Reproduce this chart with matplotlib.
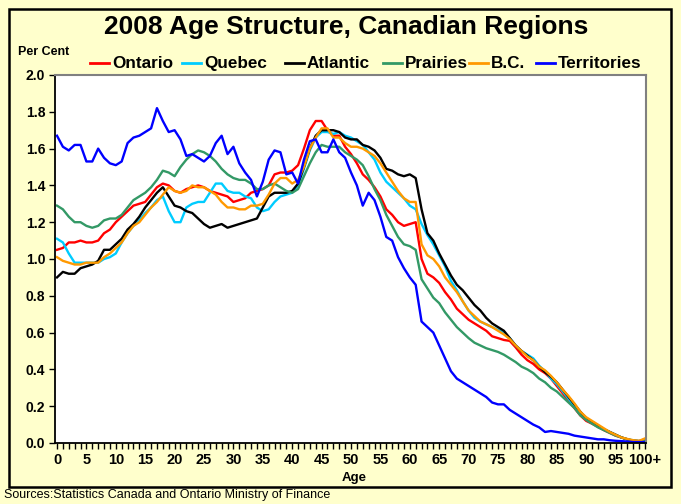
import matplotlib
matplotlib.use('Agg')
import matplotlib.pyplot as plt
from matplotlib.patches import Rectangle
from matplotlib.lines import Line2D
from matplotlib.ticker import FixedLocator, FixedFormatter, MultipleLocator, FormatStrFormatter

ages = list(range(101))

ontario = [1.05, 1.06, 1.09, 1.09, 1.10, 1.09, 1.09, 1.10, 1.14, 1.16,
           1.20, 1.23, 1.26, 1.29, 1.30, 1.31, 1.35, 1.39, 1.41, 1.40,
           1.37, 1.36, 1.38, 1.39, 1.40, 1.39, 1.37, 1.36, 1.35, 1.34,
           1.31, 1.32, 1.33, 1.36, 1.37, 1.38, 1.40, 1.46, 1.47, 1.47,
           1.48, 1.51, 1.60, 1.70, 1.75, 1.75, 1.70, 1.67, 1.67, 1.61,
           1.57, 1.52, 1.46, 1.43, 1.39, 1.34, 1.27, 1.24, 1.20, 1.18,
           1.19, 1.20, 1.00, 0.92, 0.90, 0.87, 0.82, 0.78, 0.73, 0.70,
           0.67, 0.65, 0.63, 0.61, 0.58, 0.57, 0.56, 0.555, 0.52, 0.48,
           0.45, 0.43, 0.40, 0.38, 0.35, 0.31, 0.27, 0.23, 0.19, 0.15,
           0.12, 0.105, 0.088, 0.07, 0.055, 0.04, 0.03, 0.02, 0.012, 0.01,
           0.015]

quebec = [1.11, 1.09, 1.03, 0.98, 0.98, 0.98, 0.98, 0.98, 1.00, 1.01,
          1.03, 1.09, 1.14, 1.18, 1.21, 1.25, 1.28, 1.32, 1.34, 1.26,
          1.20, 1.20, 1.28, 1.30, 1.31, 1.31, 1.36, 1.41, 1.41, 1.37,
          1.36, 1.36, 1.34, 1.33, 1.28, 1.26, 1.27, 1.31, 1.34, 1.35,
          1.36, 1.40, 1.49, 1.59, 1.66, 1.69, 1.69, 1.68, 1.69, 1.67,
          1.66, 1.64, 1.62, 1.58, 1.54, 1.47, 1.42, 1.39, 1.36, 1.33,
          1.29, 1.27, 1.19, 1.13, 1.08, 1.02, 0.96, 0.88, 0.83, 0.77,
          0.72, 0.68, 0.66, 0.645, 0.63, 0.615, 0.60, 0.57, 0.53, 0.50,
          0.48, 0.46, 0.42, 0.39, 0.35, 0.32, 0.28, 0.24, 0.20, 0.16,
          0.13, 0.11, 0.09, 0.075, 0.06, 0.045, 0.03, 0.02, 0.015, 0.01,
          0.02]

atlantic = [0.90, 0.93, 0.92, 0.92, 0.95, 0.96, 0.97, 0.99, 1.05, 1.05,
            1.08, 1.11, 1.16, 1.19, 1.23, 1.28, 1.32, 1.36, 1.39, 1.34,
            1.29, 1.28, 1.26, 1.25, 1.22, 1.19, 1.17, 1.18, 1.19, 1.17,
            1.18, 1.19, 1.20, 1.21, 1.22, 1.28, 1.34, 1.36, 1.36, 1.36,
            1.37, 1.41, 1.50, 1.60, 1.67, 1.70, 1.70, 1.70, 1.69, 1.66,
            1.65, 1.65, 1.62, 1.61, 1.59, 1.55, 1.49, 1.48, 1.46, 1.45,
            1.46, 1.44, 1.27, 1.14, 1.10, 1.03, 0.97, 0.91, 0.86, 0.83,
            0.79, 0.75, 0.72, 0.68, 0.65, 0.63, 0.61, 0.57, 0.53, 0.50,
            0.475, 0.45, 0.415, 0.385, 0.36, 0.33, 0.29, 0.25, 0.21, 0.17,
            0.135, 0.115, 0.095, 0.075, 0.06, 0.045, 0.03, 0.02, 0.012, 0.01,
            0.015]

prairies = [1.29, 1.27, 1.23, 1.20, 1.20, 1.18, 1.17, 1.18, 1.21, 1.22,
            1.22, 1.24, 1.28, 1.32, 1.34, 1.36, 1.39, 1.43, 1.48, 1.47,
            1.45, 1.50, 1.54, 1.57, 1.59, 1.58, 1.56, 1.53, 1.49, 1.46,
            1.44, 1.43, 1.43, 1.41, 1.38, 1.38, 1.40, 1.41, 1.39, 1.37,
            1.36, 1.38, 1.45, 1.52, 1.58, 1.62, 1.61, 1.61, 1.61, 1.58,
            1.56, 1.54, 1.51, 1.45, 1.38, 1.32, 1.24, 1.18, 1.12, 1.08,
            1.07, 1.05, 0.89, 0.84, 0.79, 0.76, 0.71, 0.67, 0.63, 0.60,
            0.57, 0.545, 0.53, 0.515, 0.505, 0.495, 0.48, 0.46, 0.44, 0.415,
            0.40, 0.38, 0.35, 0.33, 0.30, 0.28, 0.25, 0.22, 0.19, 0.15,
            0.125, 0.105, 0.085, 0.07, 0.055, 0.04, 0.03, 0.02, 0.012, 0.01,
            0.015]

bc = [1.01, 0.99, 0.98, 0.97, 0.97, 0.98, 0.98, 0.98, 1.01, 1.03,
      1.06, 1.09, 1.14, 1.18, 1.20, 1.24, 1.28, 1.31, 1.35, 1.39,
      1.37, 1.36, 1.37, 1.40, 1.39, 1.39, 1.37, 1.35, 1.31, 1.28,
      1.28, 1.27, 1.27, 1.29, 1.29, 1.30, 1.35, 1.41, 1.44, 1.44,
      1.41, 1.43, 1.50, 1.60, 1.66, 1.71, 1.71, 1.66, 1.66, 1.63,
      1.61, 1.61, 1.60, 1.58, 1.56, 1.52, 1.47, 1.42, 1.37, 1.33,
      1.31, 1.31, 1.08, 1.02, 1.00, 0.96, 0.90, 0.86, 0.82, 0.77,
      0.72, 0.69, 0.66, 0.645, 0.63, 0.61, 0.59, 0.565, 0.53, 0.50,
      0.47, 0.45, 0.415, 0.395, 0.365, 0.33, 0.29, 0.255, 0.215, 0.17,
      0.14, 0.12, 0.10, 0.08, 0.06, 0.045, 0.03, 0.022, 0.015, 0.012,
      0.025]

territories = [1.67, 1.61, 1.59, 1.62, 1.62, 1.53, 1.53, 1.60, 1.55, 1.52,
               1.51, 1.53, 1.63, 1.66, 1.67, 1.69, 1.71, 1.82, 1.75, 1.69,
               1.70, 1.65, 1.56, 1.57, 1.55, 1.53, 1.56, 1.63, 1.67, 1.57,
               1.61, 1.52, 1.47, 1.43, 1.34, 1.42, 1.54, 1.59, 1.58, 1.46,
               1.47, 1.41, 1.54, 1.64, 1.65, 1.58, 1.58, 1.65, 1.58, 1.55,
               1.47, 1.40, 1.29, 1.36, 1.32, 1.23, 1.12, 1.10, 1.01, 0.95,
               0.90, 0.86, 0.66, 0.63, 0.60, 0.53, 0.46, 0.39, 0.35, 0.33,
               0.31, 0.29, 0.27, 0.25, 0.22, 0.21, 0.21, 0.18, 0.16, 0.14,
               0.12, 0.10, 0.085, 0.06, 0.065, 0.06, 0.055, 0.05, 0.04, 0.035,
               0.03, 0.025, 0.02, 0.02, 0.015, 0.012, 0.01, 0.008, 0.005, 0.005,
               0.005]

series_names = ['Ontario', 'Quebec', 'Atlantic', 'Prairies', 'B.C.', 'Territories']
series_values = [ontario, quebec, atlantic, prairies, bc, territories]
series_colors = ['#FF0000', '#00CCFF', '#000000', '#339966', '#FF9900', '#0000FF']

x_tick_pos = list(range(0, 101, 5))
x_tick_labels = [str(v) for v in range(0, 100, 5)] + ['100+']

title = '2008 Age Structure, Canadian Regions'
y_label = 'Per Cent'
x_label = 'Age'
source = 'Sources:Statistics Canada and Ontario Ministry of Finance'

# legend layout (pixel x where each key line starts)
legend_key_x = [90, 182, 285, 383, 469, 536]

plt.rcParams['font.family'] = ['Liberation Sans', 'DejaVu Sans']

W, H = 681, 504
fig = plt.figure(figsize=(W / 100, H / 100), dpi=100, facecolor='#FFFFCC')

# outer frame
fig.patches.append(Rectangle((9 / W, 1 - 487 / H), (671 - 9) / W, (487 - 9) / H,
                             transform=fig.transFigure, fill=False,
                             edgecolor='black', linewidth=1.8, zorder=0))

ax = fig.add_axes([55 / W, 1 - 443 / H, (646 - 55) / W, (443 - 75) / H])
ax.set_facecolor('white')

for name, vals, col in zip(series_names, series_values, series_colors):
    ax.plot(ages, vals, color=col, linewidth=1.7, label=name,
            solid_joinstyle='round', clip_on=False)

ax.set_xlim(-2 / 5.88, 100 + 1 / 5.88)
ax.set_ylim(0, 2.0)

ax.xaxis.set_major_locator(FixedLocator(x_tick_pos))
ax.xaxis.set_major_formatter(FixedFormatter(x_tick_labels))
ax.xaxis.set_minor_locator(MultipleLocator(1))
ax.yaxis.set_major_locator(MultipleLocator(0.2))
ax.yaxis.set_major_formatter(FormatStrFormatter('%.1f'))

ax.tick_params(axis='x', which='both', direction='out', length=4, width=1,
               labelsize=10.5, pad=3)
ax.tick_params(axis='y', which='major', direction='out', length=4, width=1,
               labelsize=10, pad=3)
for lab in ax.get_xticklabels() + ax.get_yticklabels():
    lab.set_fontweight('bold')

for s in ['left', 'bottom']:
    ax.spines[s].set_color('black')
    ax.spines[s].set_linewidth(1.3)
for s in ['top', 'right']:
    ax.spines[s].set_color('#808080')
    ax.spines[s].set_linewidth(1.5)

fig.text(346 / W, 1 - 27 / H, title, ha='center', va='center',
         fontsize=19, fontweight='bold')
fig.text(18 / W, 1 - 52 / H, y_label, ha='left', va='center',
         fontsize=9, fontweight='bold')
fig.text(354 / W, 1 - 478 / H, x_label, ha='center', va='center',
         fontsize=9.5, fontweight='bold')
fig.text(4 / W, 1 - 495 / H, source, ha='left', va='center', fontsize=9)

# legend keys and labels
for kx, name, col in zip(legend_key_x, series_names, series_colors):
    fig.add_artist(Line2D([kx / W, (kx + 19) / W], [1 - 63 / H, 1 - 63 / H],
                          transform=fig.transFigure, color=col, linewidth=2.0))
    fig.text((kx + 22) / W, 1 - 68 / H, name, ha='left', va='baseline',
             fontsize=12.3, fontweight='bold')

fig.savefig('out.png', dpi=100, facecolor=fig.get_facecolor())
